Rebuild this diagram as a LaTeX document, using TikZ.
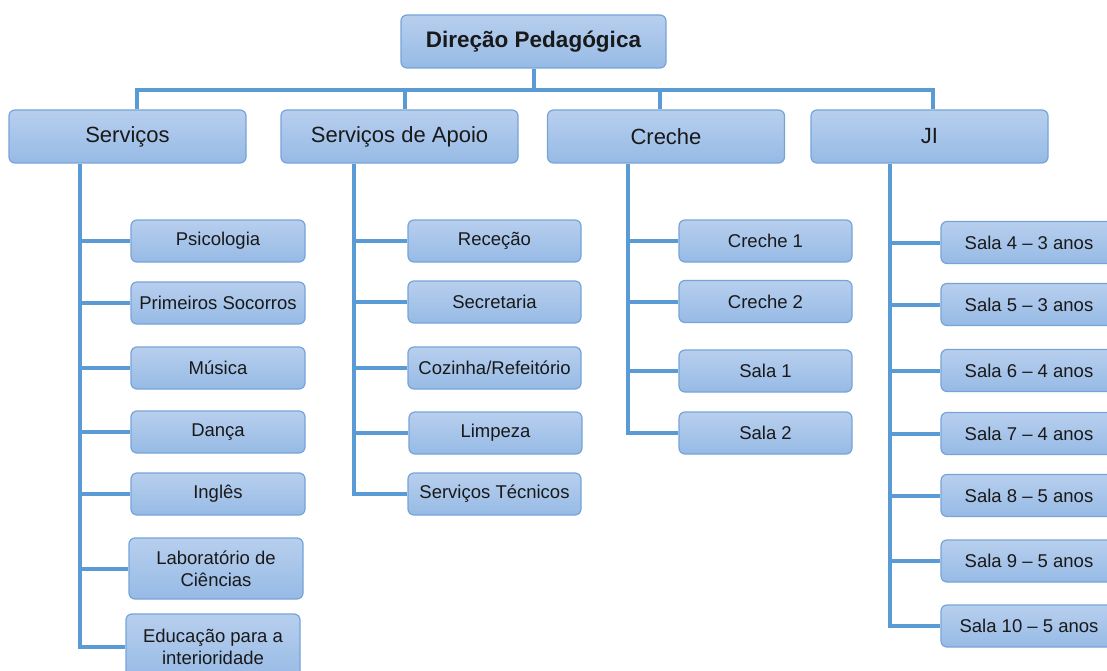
\documentclass[tikz,border=0pt]{standalone}
\usepackage{fontspec}
\setmainfont{Liberation Sans}
\definecolor{boxtop}{RGB}{184,207,238}
\definecolor{boxbot}{RGB}{150,186,229}
\definecolor{boxline}{RGB}{118,164,217}
\definecolor{linec}{RGB}{91,155,213}
\definecolor{txt}{RGB}{25,25,25}
\begin{document}
\begin{tikzpicture}[x=1pt,y=-1pt,
  box/.style={draw=boxline, line width=1.2pt, rounded corners=6pt, top color=boxtop, bottom color=boxbot, text=txt, inner sep=0pt, align=center},
  lvl0/.style={box, minimum width=265pt, minimum height=53pt, font=\fontsize{22.5}{26}\selectfont\bfseries},
  lvl1/.style={box, minimum width=237pt, minimum height=53pt, font=\fontsize{22}{26}\selectfont},
  leaf/.style={box, minimum width=174pt, minimum height=42pt, font=\fontsize{18.5}{22}\selectfont},
  conn/.style={draw=linec, line width=4pt}]
\useasboundingbox (0,0) rectangle (1107,671);
\clip (0,0) rectangle (1107,671);
\fill[white] (0,0) rectangle (1107,671);

% level 0
\node[lvl0] (top) at (533.5,41.5) {Direção Pedagógica};
% level 1
\node[lvl1] (s) at (127.5,136.5) {Serviços};
\node[lvl1] (a) at (399.5,136.5) {Serviços de Apoio};
\node[lvl1] (c) at (666,136.5) {Creche};
\node[lvl1] (j) at (929.5,136.5) {JI};

% Serviços leaves
\node[leaf] (s1) at (218,241) {Psicologia};
\node[leaf] (s2) at (218,303) {Primeiros Socorros};
\node[leaf] (s3) at (218,368) {Música};
\node[leaf] (s4) at (218,432) {Dança};
\node[leaf] (s5) at (218,494) {Inglês};
\node[leaf, minimum height=61pt] (s6) at (216,568.5) {Laboratório de\\Ciências};
\node[leaf, minimum height=66pt] (s7) at (213,647) {Educação para a\\interioridade};

% Apoio leaves
\node[leaf, minimum width=173pt] (a1) at (494.5,241) {Receção};
\node[leaf, minimum width=173pt] (a2) at (494.5,302) {Secretaria};
\node[leaf, minimum width=173pt] (a3) at (494.5,368) {Cozinha/Refeitório};
\node[leaf, minimum width=173pt] (a4) at (495.5,433) {Limpeza};
\node[leaf, minimum width=173pt] (a5) at (494.5,494) {Serviços Técnicos};

% Creche leaves
\node[leaf, minimum width=173pt] (c1) at (765.5,241) {Creche 1};
\node[leaf, minimum width=173pt] (c2) at (765.5,301.5) {Creche 2};
\node[leaf, minimum width=173pt] (c3) at (765.5,371) {Sala 1};
\node[leaf, minimum width=173pt] (c4) at (765.5,433) {Sala 2};

% JI leaves
\node[leaf, minimum width=176pt] (j1) at (1029,242.5) {Sala 4 – 3 anos};
\node[leaf, minimum width=176pt] (j2) at (1029,304.5) {Sala 5 – 3 anos};
\node[leaf, minimum width=176pt] (j3) at (1029,370.5) {Sala 6 – 4 anos};
\node[leaf, minimum width=176pt] (j4) at (1029,433.5) {Sala 7 – 4 anos};
\node[leaf, minimum width=176pt] (j5) at (1029,495.5) {Sala 8 – 5 anos};
\node[leaf, minimum width=176pt] (j6) at (1029,561) {Sala 9 – 5 anos};
\node[leaf, minimum width=176pt] (j7) at (1029,626) {Sala 10 – 5 anos};

% top connectors
\coordinate (d1) at (137,90);
\coordinate (d2) at (405,90);
\coordinate (d3) at (660,90);
\coordinate (d4) at (933,90);
\draw[conn] (top.south) -- (top.south |- d1);
\draw[conn] (d1 |- s.north) -- (d1) -- (d4) -- (d4 |- j.north);
\draw[conn] (d2) -- (d2 |- a.north);
\draw[conn] (d3) -- (d3 |- c.north);

% spine coordinates
\coordinate (vs) at (80,0);
\coordinate (va) at (354,0);
\coordinate (vc) at (628,0);
\coordinate (vj) at (890,0);

\draw[conn] (vs |- s.south) |- (s7.west);
\foreach \n in {s1,s2,s3,s4,s5,s6} \draw[conn] (vs |- \n.west) -- (\n.west);
\draw[conn] (va |- a.south) |- (a5.west);
\foreach \n in {a1,a2,a3,a4} \draw[conn] (va |- \n.west) -- (\n.west);
\draw[conn] (vc |- c.south) |- (c4.west);
\foreach \n in {c1,c2,c3} \draw[conn] (vc |- \n.west) -- (\n.west);
\draw[conn] (vj |- j.south) |- (j7.west);
\foreach \n in {j1,j2,j3,j4,j5,j6} \draw[conn] (vj |- \n.west) -- (\n.west);
\end{tikzpicture}
\end{document}
